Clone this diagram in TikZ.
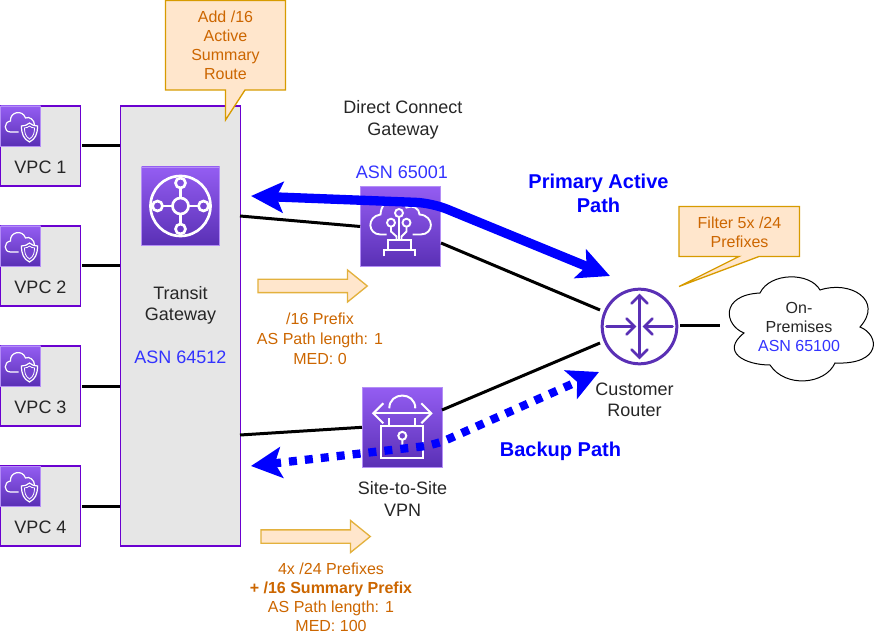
\documentclass[tikz,border=0pt]{standalone}
\usepackage{fontspec}
\setmainfont{Liberation Sans}
\usetikzlibrary{arrows.meta,shapes.arrows}

\definecolor{awstop}{HTML}{945DF2}
\definecolor{awsbot}{HTML}{5A30B5}
\definecolor{awsline}{HTML}{6A00D0}
\definecolor{routerline}{HTML}{5A30B5}
\definecolor{boxgrey}{HTML}{E6E6E6}
\definecolor{notefill}{HTML}{FFE6CC}
\definecolor{noteline}{HTML}{D79B00}
\definecolor{notetext}{HTML}{CC6600}
\definecolor{asnblue}{HTML}{3333FF}

\tikzset{
  vpcbox/.style={draw=awsline,fill=boxgrey,minimum size=60pt,inner sep=0pt,line width=1pt},
  awsicon/.style={top color=awstop,bottom color=awsbot,draw=awstop!70!white,inner sep=0pt,line width=0.5pt},
  glyph/.style={draw=white,line width=1.1pt},
  link/.style={draw=black,line width=2.25pt},
  label/.style={align=center,font=\fontsize{13.5}{16}\selectfont,text=black!85,inner sep=0pt},
  notetxt/.style={align=center,font=\fontsize{12}{14.25}\selectfont,text=notetext,inner sep=0pt},
  note/.style={draw=noteline,fill=notefill,line width=1pt,line join=miter},
  flow/.style={single arrow,draw=noteline!70!notefill,fill=notefill,line width=1pt,inner xsep=0pt,inner ysep=4.5pt,
    minimum height=82pt,single arrow head extend=7pt,single arrow tip angle=78,single arrow head indent=0pt},
  pathlabel/.style={align=center,font=\fontsize{15}{18}\selectfont\bfseries,text=blue,inner sep=0pt}
}

\begin{document}
\begin{tikzpicture}[x=0.75pt,y=-0.75pt]
  \useasboundingbox (0,0) rectangle (881,634);

  % gateway box
  \node[vpcbox,minimum width=90pt,minimum height=330pt] at (180.5,326) (tgw) {};

  % callout on the gateway
  \draw[note] (165.5,0.5) -- (285.5,0.5) -- (285.5,90) -- (245,90) -- (225.5,120) -- (225.5,90)
        -- (165.5,90) -- cycle;
  \node[notetxt] at (225.5,45.5) (addnote) {Add /16\\Active\\Summary\\Route};

  % vpcs
  \foreach \n/\y in {1/106,2/226,3/346,4/466} {
    \node[vpcbox] at (40.5,\y+40) (vpc\n) {};
    \node[awsicon,minimum size=30pt] at (20.5,\y+20) (vpcicon\n) {};
    \begin{scope}[shift={(20.5,\y+20)}]
      \draw[glyph,line width=0.9pt] (-2,6) -- (-10,6) .. controls (-17,6) and (-17,-4) .. (-10,-5)
        .. controls (-11,-14) and (2,-17) .. (5,-8) .. controls (9,-10) and (14,-6) .. (14,-1);
      \draw[glyph,line width=0.9pt,fill=awstop!45!awsbot] (1,0) .. controls (4,0) and (7,-1) .. (9,-3)
        .. controls (11,-1) and (14,0) .. (17,0) .. controls (17,8) and (15,13) .. (9,16)
        .. controls (3,13) and (1,8) .. (1,0) -- cycle;
      \draw[glyph,line width=0.6pt] (4,2) .. controls (6,2) and (8,1) .. (9,0)
        .. controls (10,1) and (12,2) .. (14,2) .. controls (14,7) and (13,10.5) .. (9,13)
        .. controls (5,10.5) and (4,7) .. (4,2) -- cycle;
    \end{scope}
    \node[label] at (40.5,\y+61) (vpclabel\n) {VPC \n};
    \path[link] (vpc\n.east) ++(1,0) coordinate (vpcend\n) -- (vpcend\n -| tgw.west);
  }

  % gateway icon
  \node[awsicon,minimum size=58.5pt] at (180.5,206) (tgwicon) {};
  \begin{scope}[shift={(180.5,206)},glyph/.append style={line width=2pt}]
    \draw[glyph] (0,0) circle (30);
    \draw[glyph] (-18,0) -- (-8,0) (8,0) -- (18,0) (0,-18) -- (0,-8) (0,8) -- (0,18);
    \draw[glyph] (0,0) circle (8);
    \draw[glyph,fill=awstop!70!awsbot] (0,-23) circle (5);
    \draw[glyph,fill=awstop!30!awsbot] (0,23) circle (5);
    \draw[glyph,fill=awstop!50!awsbot] (-23,0) circle (5) (23,0) circle (5);
  \end{scope}
  \node[label] at (180.5,305.5) (tgwlabel) {Transit\\Gateway};
  \node[label,text=asnblue] at (180.5,357) (tgwasn) {ASN 64512};

  % direct connect
  \node[label] at (403,120) (dxlabel) {Direct Connect\\Gateway};
  \node[label,text=asnblue] at (402,172) (dxasn) {ASN 65001};
  \node[awsicon,minimum size=60pt] at (400.5,226.5) (dx) {};
  \begin{scope}[shift={(400.5,226.5)},glyph/.append style={line width=1.4pt}]
    \draw[glyph] (-14,8) -- (-20,8) .. controls (-33,8) and (-34,-10) .. (-20,-12)
      .. controls (-19,-28) and (-2,-36) .. (6,-19) .. controls (12,-22) and (19,-18) .. (19,-12)
      .. controls (34,-11) and (34,8) .. (20,8) -- (12,8);
    \draw[glyph] (-9.5,0) -- (-9.5,5) -- (-4,10) -- (-4,13.5);
    \draw[glyph] (-1.5,-9.5) -- (-1.5,13.5);
    \draw[glyph] (6,0) -- (6,5) -- (1,10) -- (1,13.5);
    \draw[glyph,fill=awstop!60!awsbot] (-9.5,-3.8) circle (4) (6,-3.8) circle (4);
    \draw[glyph,fill=awstop!75!awsbot] (-1.5,-13.5) circle (4);
    \draw[glyph] (-12.5,23.5) -- (-12.5,13.5) -- (10.5,13.5) -- (10.5,23.5);
    \draw[glyph] (-16.5,30) -- (-16.5,23.5) -- (14.5,23.5) -- (14.5,30);
  \end{scope}

  % vpn
  \node[awsicon,minimum size=60pt] at (402.3,427.3) (vpn) {};
  \begin{scope}[shift={(402.3,427.3)},glyph/.append style={line width=1.5pt}]
    \draw[glyph] (-29,-14) -- (29,-14);
    \draw[glyph] (-19,-24) -- (-29,-14) -- (-19,-4) (19,-24) -- (29,-14) -- (19,-4);
    \draw[glyph] (-13,-19) .. controls (-13,-36) and (13,-36) .. (13,-19);
    \draw[glyph] (-13,-9) -- (-13,-1) (13,-9) -- (13,-1);
    \draw[glyph] (-21,-1) rectangle (21,31);
    \draw[glyph] (0,8.5) circle (4) (0,12.5) -- (0,18);
  \end{scope}
  \node[label] at (402.5,499) (vpnlabel) {Site-to-Site\\VPN};

  % router
  \node[circle,draw=routerline,line width=2.25pt,minimum size=56pt,inner sep=0pt] at (639.5,326.5) (router) {};
  \begin{scope}[shift={(639.5,326.5)},line width=2pt,line cap=round]
    \draw[routerline] (0,-31) -- (0,31) (-8,-23) -- (0,-31) -- (8,-23) (-8,23) -- (0,31) -- (8,23);
    \draw[routerline] (-33,0) -- (-5,0) (-13,-8) -- (-5,0) -- (-13,8);
    \draw[routerline] (33,0) -- (5,0) (13,-8) -- (5,0) -- (13,8);
  \end{scope}
  \node[label] at (634.5,399.5) (routerlabel) {Customer\\Router};

  % cloud
  \draw[black,line width=0.75pt,fill=white] (744,333)
     .. controls (724,325) and (720,295) .. (760,293)
     .. controls (770,272) and (810,272) .. (820,290)
     .. controls (850,280) and (884,300) .. (860,327)
     .. controls (880,335) and (882,365) .. (835,363)
     .. controls (825,385) and (785,388) .. (770,365)
     .. controls (745,365) and (720,352) .. (744,333) -- cycle;
  \node[notetxt,text=black!85] at (799,327) (cloud) {On-\\Premises\\\textcolor{asnblue}{ASN 65100}};

  % filter callout
  \draw[note] (679,206.5) -- (799.5,206.5) -- (799.5,256.5) -- (759,256.5) -- (679,286.5) -- (739,256.5)
        -- (679,256.5) -- cycle;
  \node[notetxt] at (739.5,232) (filternote) {Filter 5x /24\\Prefixes};

  % links
  \coordinate (tgwup) at (240,216);
  \coordinate (tgwdown) at (240,435);
  \coordinate (dxright) at (441,243);
  \coordinate (vpnright) at (442,410);
  \coordinate (routerup) at (600,310);
  \coordinate (routerdown) at (600,343);
  \coordinate (routerright) at (680,326);
  \coordinate (cloudleft) at (720,326);
  \draw[link] (tgwup) -- (dx.west);
  \draw[link] (dxright) -- (routerup);
  \draw[link] (vpn.west) -- (tgwdown);
  \draw[link] (vpnright) -- (routerdown);
  \draw[link] (routerright) -- (cloudleft);

  % paths
  \coordinate (primaryend) at (610,276);
  \coordinate (primarybend) at (432,203);
  \coordinate (primarystart) at (251,196);
  \draw[blue,line width=7pt,{Stealth[length=24pt,width=23pt,inset=5pt]}-{Stealth[length=24pt,width=23pt,inset=5pt]},rounded corners=12pt]
     (primarystart) -- (primarybend) -- (primaryend);
  \coordinate (backupend) at (599,372);
  \coordinate (backupbend) at (435,445);
  \coordinate (backupstart) at (251,466);
  \draw[blue,line width=6.2pt,dash pattern=on 6pt off 6pt,rounded corners=10pt,
     {Stealth[length=23pt,width=23pt,inset=5pt]}-{Stealth[length=23pt,width=23pt,inset=5pt]}]
     (backupstart) -- (backupbend) -- (backupend);
  \node[pathlabel] at (598.5,193) (primarylabel) {Primary Active\\Path};
  \node[pathlabel] at (560.5,451) (backuplabel) {Backup Path};

  % advertised prefixes
  \node[flow] at (308.5,286) (flowdx) {};
  \node[notetxt,font=\fontsize{12}{15}\selectfont] at (320,338.5) (flowdxlabel) {/16 Prefix\\AS Path length: 1\\MED: 0};
  \node[flow] at (311.5,536.5) (flowvpn) {};
  \node[notetxt] at (331,597) (flowvpnlabel) {4x /24 Prefixes\\\textbf{+ /16 Summary Prefix}\\AS Path length: 1\\MED: 100};
\end{tikzpicture}
\end{document}
